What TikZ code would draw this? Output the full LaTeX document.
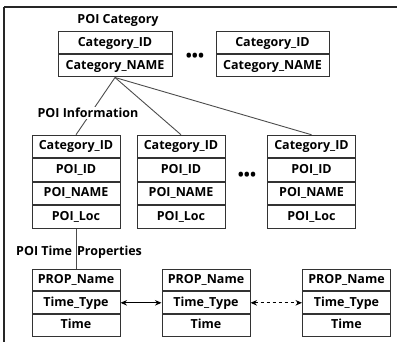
\documentclass[tikz,border=0pt]{standalone}
\usepackage{fontspec}
\setmainfont{Open Sans}
\usetikzlibrary{arrows.meta}
\begin{document}
\begin{tikzpicture}[x=1pt,y=-1pt,
  every node/.style={font=\fontsize{12.5}{14}\selectfont\bfseries},
  cell/.style={draw=black!80,line width=1pt,fill=white,inner sep=0pt,minimum height=#1,text height=9pt,text depth=2.5pt},
  cat/.style={cell=22pt,minimum width=114pt},
  poi/.style={cell=22.5pt,minimum width=88pt},
  prp/.style={cell=21.8pt,minimum width=88pt},
  link/.style={draw=black!70,line width=0.9pt},
  dbl/.style={line width=0.9pt,{Stealth[length=6.5pt,width=5.5pt]}-{Stealth[length=6.5pt,width=5.5pt]}},
  dots/.style={font=\fontsize{16}{16}\selectfont\bfseries},
  lab/.style={inner sep=1pt}]
\useasboundingbox (0,0) rectangle (397,342);
\draw[line width=2pt,black!85] (4,7) -- (397,7);
\draw[line width=1.4pt,black!85] (4,7) -- (4,342);

% category boxes
\node[cat] (c1a) at (115,43) {Category\_ID};
\node[cat,anchor=north] (c1b) at (c1a.south) {Category\_NAME};
\node[cat,minimum width=113pt] (c2a) at (272.5,43) {Category\_ID};
\node[cat,minimum width=113pt,anchor=north] (c2b) at (c2a.south) {Category\_NAME};
\node[dots] (cdots) at (195,57) {•••};
\node (clab) at (118,20) {POI Category};

% POI boxes
\node[poi] (p1a) at (76,146.5) {Category\_ID};
\node[poi,anchor=north] (p1b) at (p1a.south) {POI\_ID};
\node[poi,anchor=north] (p1c) at (p1b.south) {POI\_NAME};
\node[poi,anchor=north] (p1d) at (p1c.south) {POI\_Loc};
\node[poi] (p2a) at (181,146.5) {Category\_ID};
\node[poi,anchor=north] (p2b) at (p2a.south) {POI\_ID};
\node[poi,anchor=north] (p2c) at (p2b.south) {POI\_NAME};
\node[poi,anchor=north] (p2d) at (p2c.south) {POI\_Loc};
\node[poi] (p3a) at (311.5,146.5) {Category\_ID};
\node[poi,anchor=north] (p3b) at (p3a.south) {POI\_ID};
\node[poi,anchor=north] (p3c) at (p3b.south) {POI\_NAME};
\node[poi,anchor=north] (p3d) at (p3c.south) {POI\_Loc};
\node[dots] (pdots) at (247,176) {•••};

% connectors category -> POI
\path[link] (c1b.south) -- (p1a.north);
\path[link] (c1b.south) -- (p2a.north);
\path[link] (c1b.south) -- (p3a.north);
\node[lab,fill=white] (plab) at (88,113) {POI Information};

% property boxes
\node[prp] (r1a) at (76,280) {PROP\_Name};
\node[prp,anchor=north] (r1b) at (r1a.south) {Time\_Type};
\node[prp,anchor=north] (r1c) at (r1b.south) {Time};
\node[prp] (r2a) at (206,280) {PROP\_Name};
\node[prp,anchor=north] (r2b) at (r2a.south) {Time\_Type};
\node[prp,anchor=north] (r2c) at (r2b.south) {Time};
\node[prp] (r3a) at (346.5,280) {PROP\_Name};
\node[prp,anchor=north] (r3b) at (r3a.south) {Time\_Type};
\node[prp,anchor=north] (r3c) at (r3b.south) {Time};

\path[link] (p1d.south) -- (r1a.north);
\node[lab,anchor=west] (rlab) at (15,252) {POI Time\hspace{5pt}Properties};

\draw[dbl] (r1b.east) -- (r2b.west);
\draw[dbl,dashed] (r2b.east) -- (r3b.west);
\end{tikzpicture}
\end{document}
